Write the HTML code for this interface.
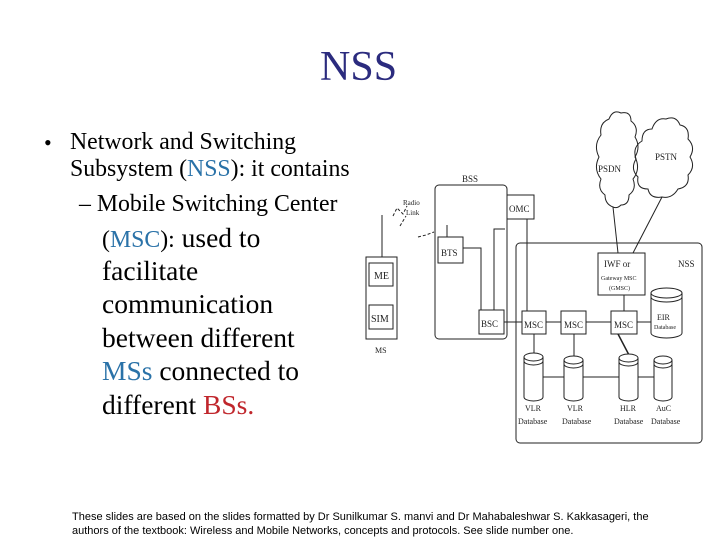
<!DOCTYPE html>
<html><head><meta charset="utf-8"><style>
body{margin:0;background:#fff;}
#p{position:relative;width:720px;height:540px;overflow:hidden;background:#fff;font-family:"Liberation Serif",serif;color:#000;}
.t{position:absolute;white-space:nowrap;line-height:1;}
.b{color:#2a72a8}.r{color:#c0262c}
</style></head><body><div id="p">
<div class="t" style="left:320px;top:46px;font-size:42px;color:#2b2b7e;">NSS</div>
<div class="t" style="left:44px;top:132px;font-size:22px;">•</div>
<div class="t" style="left:70px;top:131px;font-size:23.8px;">Network and Switching</div>
<div class="t" style="left:70px;top:158px;font-size:23.8px;">Subsystem (<span class="b">NSS</span>): it contains</div>
<div class="t" style="left:79px;top:193px;font-size:23.8px;">–&nbsp;Mobile Switching Center</div>
<div class="t" style="left:102px;top:224px;font-size:27.5px;"><span style="font-size:23.8px">(<span class="b">MSC</span>):</span> used to</div>
<div class="t" style="left:102px;top:257px;font-size:27.5px;">facilitate</div>
<div class="t" style="left:102px;top:290px;font-size:27.5px;">communication</div>
<div class="t" style="left:102px;top:324px;font-size:27.5px;">between different</div>
<div class="t" style="left:102px;top:357px;font-size:27.5px;"><span class="b">MSs</span> connected to</div>
<div class="t" style="left:102px;top:391px;font-size:27.5px;">different <span class="r">BSs.</span></div>
<div class="t" style="left:72px;top:510px;font-size:11px;font-family:'Liberation Sans',sans-serif;line-height:14px;">These slides are based on the slides formatted by Dr Sunilkumar S. manvi and Dr Mahabaleshwar S. Kakkasageri, the<br>authors of the textbook: Wireless and Mobile Networks, concepts and protocols. See slide number one.</div>
<svg width="720" height="540" style="position:absolute;left:0;top:0" font-family="Liberation Serif,serif" fill="none" stroke="#222" stroke-width="1">
<line x1="382" y1="215" x2="382" y2="257"/>
<rect x="366" y="257" width="31" height="82"/>
<rect x="369" y="263" width="24" height="23"/>
<rect x="369" y="305" width="24" height="24"/>
<path d="M393 216 l4 -8 l6 6 l4 -8 M400 226 l6 -10 M418 237 l8 -2 l8 -3" stroke-dasharray="3,2"/>
<rect x="435" y="185" width="72" height="154" rx="4"/>
<rect x="507" y="195" width="27" height="24" fill="#fff"/>
<line x1="447" y1="225" x2="447" y2="237"/>
<rect x="438" y="237" width="25" height="26"/>
<rect x="479" y="310" width="25" height="24" fill="#fff"/>
<polyline points="463,248 481,248 481,310"/>
<polyline points="494,310 494,229 505,229"/>
<rect x="516" y="243" width="186" height="200" rx="4"/>
<line x1="527" y1="219" x2="527" y2="311"/>
<line x1="504" y1="322" x2="651" y2="322"/>
<rect x="522" y="311" width="24" height="23" fill="#fff"/>
<rect x="561" y="311" width="25" height="23" fill="#fff"/>
<rect x="611" y="311" width="26" height="23" fill="#fff"/>
<rect x="598" y="253" width="47" height="42"/>
<line x1="624" y1="295" x2="624" y2="311"/>
<line x1="613" y1="207" x2="618" y2="253"/><line x1="662" y1="197" x2="633" y2="253"/>
<path d="M651 293 a15.5 5 0 0 1 31 0 v40 a15.5 5 0 0 1 -31 0 z M651 293 a15.5 5 0 0 0 31 0 M651 297 a15.5 5 0 0 0 31 0" fill="#fff"/>
<line x1="534" y1="334" x2="534" y2="355"/><line x1="574" y1="334" x2="574" y2="357"/>
<line x1="618" y1="334" x2="629" y2="355" stroke-width="1.5"/>
<line x1="543" y1="377" x2="654" y2="377"/>
<g fill="#fff">
<path d="M524 357 a9.5 4 0 0 1 19 0 v40 a9.5 4 0 0 1 -19 0 z M524 357 a9.5 4 0 0 0 19 0 M524 361 a9.5 4 0 0 0 19 0"/>
<path d="M564 360 a9.5 4 0 0 1 19 0 v37 a9.5 4 0 0 1 -19 0 z M564 360 a9.5 4 0 0 0 19 0 M564 364 a9.5 4 0 0 0 19 0"/>
<path d="M619 358 a9.5 4 0 0 1 19 0 v39 a9.5 4 0 0 1 -19 0 z M619 358 a9.5 4 0 0 0 19 0 M619 362 a9.5 4 0 0 0 19 0"/>
<path d="M654 360 a9 4 0 0 1 18 0 v37 a9 4 0 0 1 -18 0 z M654 360 a9 4 0 0 0 18 0 M654 364 a9 4 0 0 0 18 0"/>
</g>
<path d="M613 207 q-8 -3 -8 -12 q-8 -6 -4 -16 q-8 -10 -2 -22 q-6 -12 2 -22 q-2 -12 8 -16 q4 -10 12 -6 q10 -2 10 8 q8 6 4 16 q6 10 0 20 q6 12 -2 22 q4 10 -4 16 q0 10 -8 10 q-4 4 -8 2 z"/>
<path d="M662 197 q-12 2 -14 -8 q-12 0 -10 -12 q-8 -8 -2 -18 q-4 -12 6 -18 q0 -12 10 -12 q4 -12 14 -10 q10 -4 14 6 q10 2 8 14 q8 8 2 18 q6 10 -2 18 q2 12 -10 14 q-6 10 -16 8 z"/>
<g fill="#222" stroke="none" font-size="10">
<text x="374" y="279">ME</text><text x="371" y="322">SIM</text><text x="375" y="353" font-size="8">MS</text>
<text x="403" y="205" font-size="7">Radio</text><text x="406" y="215" font-size="7">Link</text>
<text x="462" y="182" font-size="9">BSS</text>
<text x="509" y="212" font-size="9">OMC</text>
<text x="441" y="256" font-size="9">BTS</text>
<text x="481" y="327" font-size="9">BSC</text>
<text x="524" y="328" font-size="9">MSC</text>
<text x="564" y="328" font-size="9">MSC</text>
<text x="614" y="328" font-size="9">MSC</text>
<text x="678" y="267" font-size="9">NSS</text>
<text x="604" y="267" font-size="9">IWF or</text>
<text x="601" y="280" font-size="6">Gateway MSC</text>
<text x="609" y="290" font-size="6">(GMSC)</text>
<text x="657" y="320" font-size="8">EIR</text><text x="654" y="329" font-size="6">Database</text>
<text x="598" y="172" font-size="9">PSDN</text><text x="655" y="160" font-size="9">PSTN</text>
<text x="525" y="411" font-size="8">VLR</text><text x="518" y="424" font-size="8">Database</text>
<text x="567" y="411" font-size="8">VLR</text><text x="562" y="424" font-size="8">Database</text>
<text x="620" y="411" font-size="8">HLR</text><text x="614" y="424" font-size="8">Database</text>
<text x="656" y="411" font-size="8">AuC</text><text x="651" y="424" font-size="8">Database</text>
</g>
</svg>
</div></body></html>
